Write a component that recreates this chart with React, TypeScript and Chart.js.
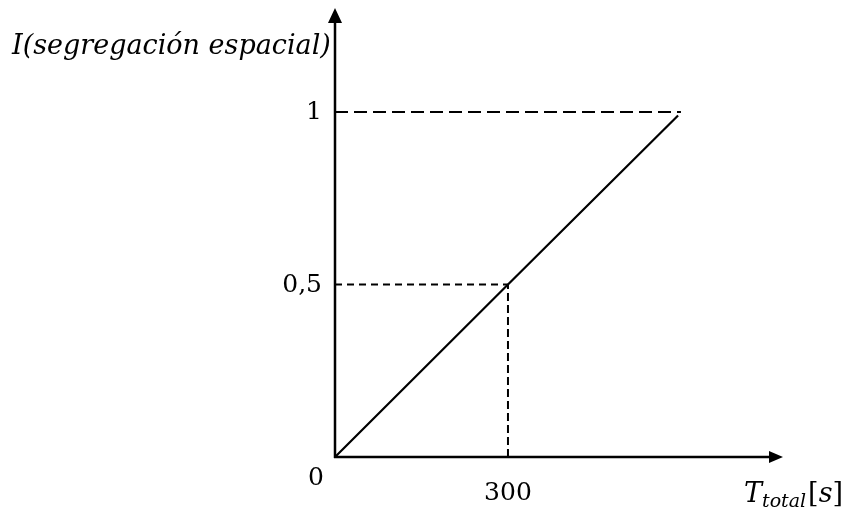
import React, { useEffect, useRef } from "react";
import { Chart, registerables } from "chart.js";

Chart.register(...registerables);

// ---- data ----
const lineX = [0, 300, 595];
const lineY = [0, 0.5, 0.99];
const guideLevelsY = [1, 0.5];
const guideEndsX = [600, 300];
const xTickValues = [300];
const xTickLabels = ["300"];
const yTickValues = [0.5, 1];
const yTickLabels = ["0,5", "1"];
const originLabel = "0";
const yAxisTitle = "I(segregación espacial)";
const xAxisTitleMain = "T";
const xAxisTitleSub = "total";
const xAxisTitleUnit = "s";

const X_MAX = 777;
const Y_MAX = 1.3014;
const FONT = '"DejaVu Serif", serif';

const axesPlugin = {
  id: "axesPlugin",
  afterDatasetsDraw(chart: any) {
    const ctx = chart.ctx as CanvasRenderingContext2D;
    const xs = chart.scales.x;
    const ys = chart.scales.y;
    const x0 = xs.getPixelForValue(0);
    const y0 = ys.getPixelForValue(0);
    const xEnd = xs.getPixelForValue(X_MAX);
    const yEnd = ys.getPixelForValue(Y_MAX);
    ctx.save();
    ctx.strokeStyle = "#000";
    ctx.fillStyle = "#000";
    ctx.lineWidth = 2.5;
    ctx.setLineDash([]);
    // y axis
    ctx.beginPath();
    ctx.moveTo(x0, y0 + 1);
    ctx.lineTo(x0, yEnd + 12);
    ctx.stroke();
    ctx.beginPath();
    ctx.moveTo(x0, yEnd);
    ctx.lineTo(x0 - 7, yEnd + 15);
    ctx.lineTo(x0 + 7, yEnd + 15);
    ctx.closePath();
    ctx.fill();
    // x axis
    ctx.beginPath();
    ctx.moveTo(x0 - 1, y0);
    ctx.lineTo(xEnd - 12, y0);
    ctx.stroke();
    ctx.beginPath();
    ctx.moveTo(xEnd, y0);
    ctx.lineTo(xEnd - 14, y0 - 6);
    ctx.lineTo(xEnd - 14, y0 + 6);
    ctx.closePath();
    ctx.fill();

    // tick labels
    ctx.font = `25px ${FONT}`;
    ctx.textBaseline = "middle";
    ctx.textAlign = "right";
    yTickValues.forEach((v, i) => {
      ctx.fillText(yTickLabels[i], x0 - 13, ys.getPixelForValue(v) + 1);
    });
    ctx.textAlign = "center";
    xTickValues.forEach((v, i) => {
      ctx.fillText(xTickLabels[i], xs.getPixelForValue(v), y0 + 36);
    });
    ctx.fillText(originLabel, x0 - 19, y0 + 21);

    // y title
    ctx.textAlign = "left";
    ctx.textBaseline = "alphabetic";
    ctx.font = `italic 27px ${FONT}`;
    ctx.fillText(yAxisTitle, 12, 54);

    // x title
    let cx = 744;
    const by = 502;
    ctx.font = `italic 27px ${FONT}`;
    ctx.fillText(xAxisTitleMain, cx, by);
    cx += ctx.measureText(xAxisTitleMain).width;
    ctx.font = `italic 19px ${FONT}`;
    ctx.fillText(xAxisTitleSub, cx, by + 5);
    cx += ctx.measureText(xAxisTitleSub).width + 2;
    ctx.font = `27px ${FONT}`;
    ctx.fillText("[", cx, by);
    cx += ctx.measureText("[").width;
    ctx.font = `italic 27px ${FONT}`;
    ctx.fillText(xAxisTitleUnit, cx, by);
    cx += ctx.measureText(xAxisTitleUnit).width;
    ctx.font = `27px ${FONT}`;
    ctx.fillText("]", cx, by);
    ctx.restore();
  },
};

export default function App() {
  const ref = useRef<HTMLCanvasElement | null>(null);
  useEffect(() => {
    if (!ref.current) return;
    const chart = new Chart(ref.current, {
      type: "line",
      data: {
        datasets: [
          {
            data: [
              { x: 0, y: guideLevelsY[0] },
              { x: guideEndsX[0], y: guideLevelsY[0] },
            ],
            borderColor: "#000",
            borderWidth: 2,
            borderDash: [13, 6],
            pointRadius: 0,
          },
          {
            data: [
              { x: 0, y: guideLevelsY[1] },
              { x: guideEndsX[1], y: guideLevelsY[1] },
            ],
            borderColor: "#000",
            borderWidth: 2,
            borderDash: [7, 5],
            pointRadius: 0,
          },
          {
            data: [
              { x: xTickValues[0], y: 0 },
              { x: xTickValues[0], y: guideLevelsY[1] },
            ],
            borderColor: "#000",
            borderWidth: 2,
            borderDash: [8, 4],
            pointRadius: 0,
          },
          {
            data: lineX.map((x, i) => ({ x, y: lineY[i] })),
            borderColor: "#000",
            borderWidth: 2.2,
            pointRadius: 0,
            tension: 0,
          },
        ],
      },
      options: {
        responsive: false,
        animation: false,
        layout: { padding: { left: 335, right: 66, top: 8, bottom: 55 } },
        plugins: { legend: { display: false }, tooltip: { enabled: false } },
        scales: {
          x: { type: "linear", min: 0, max: X_MAX, display: false },
          y: { type: "linear", min: 0, max: Y_MAX, display: false },
        },
      },
      plugins: [axesPlugin],
    });
    return () => chart.destroy();
  }, []);
  return (
    <div style={{ position: "fixed", left: 0, top: 0, width: 849, height: 512, background: "#fff" }}>
      <canvas ref={ref} width={849} height={512} />
    </div>
  );
}
